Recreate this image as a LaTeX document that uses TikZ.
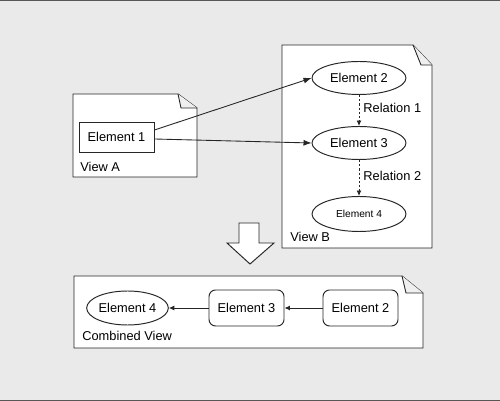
\documentclass[tikz,border=0pt]{standalone}
\usepackage{fontspec}
\setmainfont{Liberation Sans}
\usepackage{xcolor}
\usetikzlibrary{arrows.meta,positioning,shapes.geometric}
\definecolor{Ink}{HTML}{262626}
\definecolor{Paper}{HTML}{EAEAEA}
\definecolor{Frame}{HTML}{575757}
\definecolor{Fold}{HTML}{EFEFEF}
\tikzset{
  page/.style={draw=Ink,fill=white,line width=0.55pt,line join=miter},
  fold/.style={draw=Ink,fill=Fold,line width=0.5pt},
  elemrect/.style={draw=Ink,fill=white,line width=0.55pt,inner sep=0pt,minimum width=15mm,minimum height=6mm,font=\fontsize{7.3}{8.5}\selectfont},
  elemround/.style={elemrect,rounded corners=1.3mm,minimum height=7.2mm},
  elemoval/.style={ellipse,draw=Ink,fill=white,line width=0.55pt,inner sep=0pt,minimum width=18.8mm,minimum height=6.6mm,font=\fontsize{7.3}{8.5}\selectfont},
  viewlabel/.style={anchor=west,inner sep=0pt,font=\fontsize{7.3}{8.5}\selectfont},
  rellabel/.style={anchor=west,inner sep=0pt,font=\fontsize{7.3}{8.5}\selectfont},
  arrow/.style={-{Latex[length=1.6mm,width=1.2mm]},line width=0.5pt,draw=Ink},
  smallarrow/.style={-{Latex[length=1.1mm,width=1mm]},line width=0.5pt,draw=Ink},
  dasharrow/.style={smallarrow,dash pattern=on 1.2pt off 1.2pt}
}
\begin{document}
\begin{tikzpicture}[x=0.02cm,y=-0.02cm]
  \useasboundingbox (0,0) rectangle (500,401);
  \fill[Paper] (0,0) rectangle (500,401);
  \draw[Frame,line width=0.6pt] (0,0.5) -- (500,0.5);
  \draw[Frame,line width=0.6pt] (0,400.5) -- (500,400.5);

  % View A
  \filldraw[page] (73,94) -- (178,94) -- (197,108) -- (197,177) -- (73,177) -- cycle;
  \filldraw[fold] (178,94) -- (181,108) -- (197,108);
  \node[elemrect] (e1) at (116.5,137) {Element 1};
  \node[viewlabel] (va) at (80,167) {View A};

  % View B
  \filldraw[page] (282,45) -- (413,45) -- (432,65) -- (432,248) -- (282,248) -- cycle;
  \filldraw[fold] (413,45) -- (421,65) -- (432,65);
  \node[elemoval] (e2) at (359,78) {Element 2};
  \node[elemoval] (e3) at (359,143) {Element 3};
  \node[elemoval,minimum height=7mm,font=\fontsize{5.8}{7}\selectfont] (e4) at (359,214) {Element 4};
  \node[viewlabel] (vb) at (290,237) {View B};

  \draw[arrow] ([yshift=1.4mm]e1.east) -- (e2.west);
  \draw[arrow] ([yshift=-0.4mm]e1.east) -- (e3.west);
  \draw[dasharrow] (e2) -- node[rellabel,xshift=0.8mm,yshift=0.5mm] (r1) {Relation 1} (e3);
  \draw[dasharrow] (e3) -- node[rellabel,xshift=0.8mm,yshift=0.5mm] (r2) {Relation 2} (e4);

  % merge arrow
  \filldraw[page] (239,223) -- (259,223) -- (259,243) -- (274,243) -- (250,264)
    -- (227,243) -- (239,243) -- cycle;

  % Combined view
  \filldraw[page] (74,276) -- (402,276) -- (423,293) -- (423,348) -- (74,348) -- cycle;
  \filldraw[fold] (402,276) -- (406,293) -- (423,293);
  \node[elemoval,minimum width=15.4mm,minimum height=6.8mm] (c4) at (127.5,308) {Element 4};
  \node[elemround] (c3) at (246.5,308) {Element 3};
  \node[elemround] (c2) at (360.5,308) {Element 2};
  \node[viewlabel] (vc) at (82,336) {Combined View};

  \draw[smallarrow] (c2) -- (c3);
  \draw[smallarrow] (c3) -- (c4);
\end{tikzpicture}
\end{document}
